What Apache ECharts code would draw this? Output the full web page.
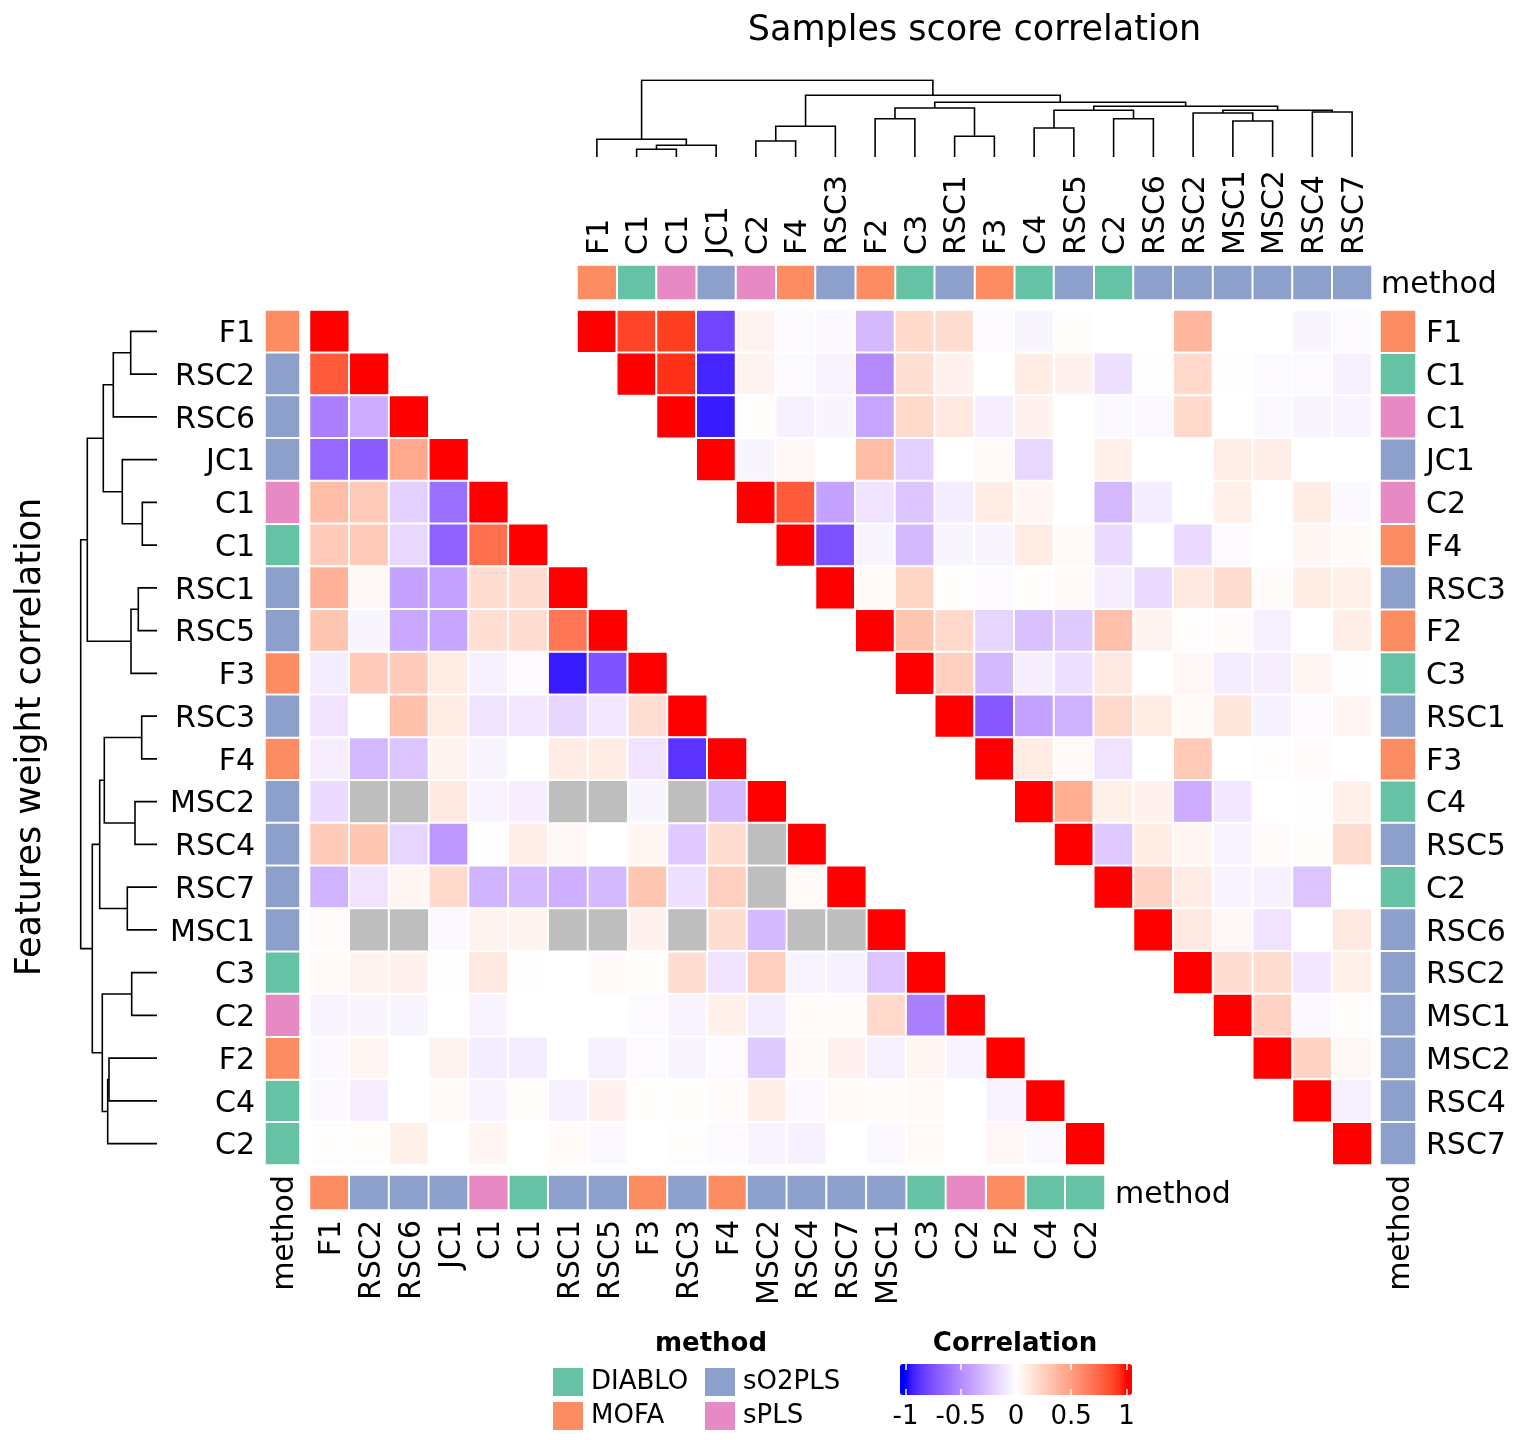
<!DOCTYPE html>
<html>
<head>
<meta charset="utf-8">
<script src="https://cdn.jsdelivr.net/npm/echarts@6/dist/echarts.min.js"></script>
<style>html,body{margin:0;padding:0;background:#fff}#chart{width:1536px;height:1440px}</style>
</head>
<body>
<div id="chart"></div>
<script>
// row / column order of the two heatmaps (after clustering)
var leftNames = ['F1','RSC2','RSC6','JC1','C1','C1','RSC1','RSC5','F3','RSC3','F4','MSC2','RSC4','RSC7','MSC1','C3','C2','F2','C4','C2'];
var leftMethod = ['MOFA','sO2PLS','sO2PLS','sO2PLS','sPLS','DIABLO','sO2PLS','sO2PLS','MOFA','sO2PLS','MOFA','sO2PLS','sO2PLS','sO2PLS','sO2PLS','DIABLO','sPLS','MOFA','DIABLO','DIABLO'];
var rightNames = ['F1','C1','C1','JC1','C2','F4','RSC3','F2','C3','RSC1','F3','C4','RSC5','C2','RSC6','RSC2','MSC1','MSC2','RSC4','RSC7'];
var rightMethod = ['MOFA','DIABLO','sPLS','sO2PLS','sPLS','MOFA','sO2PLS','MOFA','DIABLO','sO2PLS','MOFA','DIABLO','sO2PLS','DIABLO','sO2PLS','sO2PLS','sO2PLS','sO2PLS','sO2PLS','sO2PLS'];
var methods = ['DIABLO','MOFA','sO2PLS','sPLS'];

// features weight correlation, lower triangle (cols 0..i-1), null = NA
var leftCorr = [
  [],
  [0.80],
  [-0.55,-0.35],
  [-0.65,-0.70,0.45],
  [0.35,0.28,-0.20,-0.62],
  [0.27,0.28,-0.17,-0.68,0.72],
  [0.40,0.04,-0.40,-0.40,0.18,0.18],
  [0.30,-0.04,-0.37,-0.38,0.17,0.18,0.68],
  [-0.08,0.27,0.27,0.10,-0.06,-0.02,-0.95,-0.75],
  [-0.12,0.00,0.33,0.10,-0.12,-0.10,-0.18,-0.10,0.17],
  [-0.07,-0.30,-0.25,0.06,-0.04,0.00,0.10,0.10,-0.12,-0.87],
  [-0.15,null,null,0.12,-0.05,-0.07,null,null,-0.04,null,-0.30],
  [0.27,0.30,-0.18,-0.45,-0.01,0.09,0.04,0.00,0.05,-0.23,0.18,null],
  [-0.32,-0.12,0.05,0.20,-0.32,-0.30,-0.34,-0.30,0.30,-0.13,0.25,null,0.03],
  [0.02,null,null,-0.03,0.06,0.06,null,null,0.07,null,0.18,-0.30,null,null],
  [0.03,0.06,0.07,-0.01,0.12,-0.01,0.00,0.03,0.01,0.18,-0.12,0.25,-0.05,-0.06,-0.25],
  [-0.05,-0.04,-0.04,0.00,-0.05,0.00,0.00,0.00,-0.02,-0.05,0.08,-0.08,0.03,0.02,0.20,-0.55],
  [-0.03,0.05,0.00,0.06,-0.08,-0.08,0.00,-0.06,-0.02,-0.04,-0.02,-0.22,0.03,0.07,-0.06,0.05,-0.05],
  [-0.03,-0.07,0.00,0.03,-0.05,0.01,-0.06,0.07,0.01,0.01,0.02,0.09,-0.03,0.03,0.02,0.03,0.00,-0.05],
  [0.01,0.01,0.08,0.00,0.05,0.00,0.03,-0.03,0.00,0.01,-0.02,-0.05,-0.06,0.00,-0.03,0.03,0.00,0.04,-0.03]
];

// samples score correlation, upper triangle (cols i+1..19)
var rightCorr = [
  [0.88,0.90,-0.80,0.06,-0.02,-0.03,-0.30,0.20,0.18,-0.02,-0.04,0.01,0.00,0.00,0.38,0.00,0.00,-0.04,-0.02],
  [0.93,-0.92,0.06,-0.02,-0.05,-0.50,0.17,0.07,0.00,0.10,0.07,-0.13,-0.01,0.20,-0.01,-0.02,-0.02,-0.06],
  [-0.95,0.01,-0.06,-0.04,-0.38,0.20,0.12,-0.07,0.07,0.00,-0.03,-0.03,0.20,0.00,-0.03,-0.04,-0.05],
  [-0.04,0.04,0.00,0.35,-0.20,0.00,0.03,-0.17,0.00,0.08,0.00,0.00,0.09,0.09,0.00,0.00],
  [0.80,-0.40,-0.12,-0.25,-0.08,0.10,0.05,0.00,-0.30,-0.08,0.00,0.08,0.00,0.10,-0.03],
  [-0.75,-0.04,-0.30,-0.04,-0.04,0.10,0.03,-0.15,0.00,-0.15,-0.02,0.00,0.05,0.03],
  [0.03,0.22,0.01,-0.02,0.01,0.03,-0.07,-0.15,0.12,0.18,0.02,0.10,0.08],
  [0.30,0.20,-0.18,-0.27,-0.22,0.33,0.06,0.01,0.02,-0.06,0.00,0.09],
  [0.25,-0.30,-0.07,-0.13,0.12,0.00,0.04,-0.08,-0.07,0.05,-0.01],
  [-0.72,-0.40,-0.33,0.20,0.10,0.03,0.13,-0.06,-0.02,0.05],
  [0.10,0.03,-0.12,0.00,0.28,0.00,0.01,0.02,0.00],
  [0.42,0.08,0.07,-0.35,-0.10,0.00,-0.01,0.08],
  [-0.23,0.10,0.05,-0.05,0.02,0.01,0.18],
  [0.23,0.10,-0.05,-0.06,-0.25,0.00],
  [0.12,0.04,-0.12,0.00,0.12],
  [0.18,0.18,-0.10,0.08],
  [0.23,-0.03,0.01],
  [0.23,0.04],
  [-0.06],
  []
];

// dendrogram merges: [a, b, height]; 0..19 = leaves, 20+k = k-th merge
var leftTree = [
  [0,1,26.3],[20,2,43.7],[4,5,14.7],[3,22,34.7],[21,23,53.7],
  [6,7,18.7],[25,8,26],[24,26,69.7],[9,10,15.3],[11,12,22],
  [28,29,52.7],[13,14,29.7],[30,31,57.3],[15,16,25.3],[17,18,48],
  [34,19,49.3],[33,35,54.7],[32,36,64.7],[27,37,76.3]
];
var topTree = [
  [1,2,7.7],[20,3,11.7],[0,21,17.7],[4,5,16],[23,6,30.7],
  [7,8,38.3],[9,10,20.7],[25,26,49],[11,12,29],[13,14,38.3],
  [28,29,46.7],[16,17,36],[15,31,44],[18,19,45],[32,33,46.7],
  [30,34,50.7],[27,35,54.7],[24,36,61.7],[22,37,76.7]
];

var corrTicks = [-1,-0.5,0,0.5,1];

var FONT = 'DejaVu Sans';
var methodColor = {DIABLO:'#66C2A5', MOFA:'#FC8D62', sO2PLS:'#8DA0CB', sPLS:'#E78AC3'};

// blue - white - red ramp interpolated in LAB (like colorRamp2)
function toLin(c){c/=255;return c<=0.04045?c/12.92:Math.pow((c+0.055)/1.055,2.4);}
function toSrgb(c){c=c<=0.0031308?12.92*c:1.055*Math.pow(c,1/2.4)-0.055;return Math.round(Math.min(1,Math.max(0,c))*255);}
function rgbToLab(rgb){
  var r=toLin(rgb[0]),g=toLin(rgb[1]),b=toLin(rgb[2]);
  var x=(0.4124564*r+0.3575761*g+0.1804375*b)/0.95047,
      y=0.2126729*r+0.7151522*g+0.0721750*b,
      z=(0.0193339*r+0.1191920*g+0.9503041*b)/1.08883;
  var f=function(t){return t>216/24389?Math.cbrt(t):(24389/27*t+16)/116;};
  return [116*f(y)-16,500*(f(x)-f(y)),200*(f(y)-f(z))];
}
function labToRgb(lab){
  var fy=(lab[0]+16)/116, fx=fy+lab[1]/500, fz=fy-lab[2]/200;
  var finv=function(t){return t*t*t>216/24389?t*t*t:(116*t-16)/(24389/27);};
  var x=finv(fx)*0.95047, y=finv(fy), z=finv(fz)*1.08883;
  var r=3.2404542*x-1.5371385*y-0.4985314*z,
      g=-0.9692660*x+1.8760108*y+0.0415560*z,
      b=0.0556434*x-0.2040259*y+1.0572252*z;
  return 'rgb('+toSrgb(r)+','+toSrgb(g)+','+toSrgb(b)+')';
}
var labBlue=rgbToLab([0,0,255]), labWhite=rgbToLab([255,255,255]), labRed=rgbToLab([255,0,0]);
function corrColor(v){
  v=Math.max(-1,Math.min(1,v));
  var end=v<0?labBlue:labRed, t=Math.abs(v);
  return labToRgb([0,1,2].map(function(k){return labWhite[k]+(end[k]-labWhite[k])*t;}));
}
var rampColors=[];
for(var k=0;k<=42;k++){rampColors.push(corrColor(-1.05+k*0.05));}

// heatmap cells
var leftData=[], leftNA=[], rightData=[];
leftCorr.forEach(function(row,i){
  row.forEach(function(v,j){
    if(v===null){leftNA.push([j,i,0]);}else{leftData.push([j,i,v]);}
  });
  leftData.push([i,i,1]);
});
rightCorr.forEach(function(row,i){
  rightData.push([i,i,1]);
  row.forEach(function(v,k){rightData.push([i+1+k,i,v]);});
});

// dendrogram segments in (position, height)
function dendroSegs(tree,n){
  var pos=[],ht=[],segs=[];
  for(var i=0;i<n;i++){pos.push(i);ht.push(0);}
  tree.forEach(function(m){
    var a=m[0],b=m[1],h=m[2];
    segs.push([[pos[a],ht[a]],[pos[a],h],[pos[b],h],[pos[b],ht[b]]]);
    pos.push((pos[a]+pos[b])/2);ht.push(h);
  });
  return segs;
}
var leftSegs=dendroSegs(leftTree,20).map(function(s){return {coords:s.map(function(p){return [p[1],p[0]];})};});
var topSegs=dendroSegs(topTree,20).map(function(s){return {coords:s};});

var idx20=[];for(var i=0;i<20;i++){idx20.push(String(i));}

function hiddenCat(g,data,inv){return {type:'category',gridIndex:g,data:data,show:false,inverse:!!inv};}
function labelCat(g,data,pos,opt){
  return {type:'category',gridIndex:g,data:data,position:pos,inverse:!!opt.inverse,
    axisLine:{show:false},axisTick:{show:false},splitLine:{show:false},
    axisLabel:{show:true,interval:0,rotate:opt.rotate||0,margin:opt.margin||10,
      formatter:function(v){return '{t|'+v+'}';},
      rich:{t:{fontSize:30,color:'#000',fontFamily:FONT,padding:[6,0,0,0]}}}};
}

var cellStyle={borderColor:'#fff',borderWidth:2};
var series=[
  {type:'heatmap',name:'leftCorr',xAxisIndex:0,yAxisIndex:0,data:leftData,itemStyle:cellStyle,silent:true},
  {type:'heatmap',name:'rightCorr',xAxisIndex:1,yAxisIndex:1,data:rightData,itemStyle:cellStyle,silent:true},
  {type:'heatmap',name:'NA',xAxisIndex:0,yAxisIndex:0,data:leftNA,itemStyle:{color:'#BEBEBE',borderColor:'#fff',borderWidth:2},silent:true}
];
methods.forEach(function(m){
  var st={color:methodColor[m],borderColor:'#fff',borderWidth:2};
  var rowL=[],colL=[],colR=[],rowR=[];
  leftMethod.forEach(function(x,i){if(x===m){rowL.push([0,i,1]);colL.push([i,0,1]);}});
  rightMethod.forEach(function(x,i){if(x===m){colR.push([i,0,1]);rowR.push([0,i,1]);}});
  series.push({type:'heatmap',name:m,xAxisIndex:2,yAxisIndex:2,data:rowL,itemStyle:st,silent:true});
  series.push({type:'heatmap',name:m,xAxisIndex:3,yAxisIndex:3,data:colL,itemStyle:st,silent:true});
  series.push({type:'heatmap',name:m,xAxisIndex:4,yAxisIndex:4,data:colR,itemStyle:st,silent:true});
  series.push({type:'heatmap',name:m,xAxisIndex:5,yAxisIndex:5,data:rowR,itemStyle:st,silent:true});
});
series.push({type:'lines',coordinateSystem:'cartesian2d',xAxisIndex:6,yAxisIndex:6,polyline:true,data:leftSegs,
  lineStyle:{color:'#000',width:1.6,opacity:1},silent:true});
series.push({type:'lines',coordinateSystem:'cartesian2d',xAxisIndex:7,yAxisIndex:7,polyline:true,data:topSegs,
  lineStyle:{color:'#000',width:1.6,opacity:1},silent:true});

var tickAxis={show:true,inside:true,length:6,lineStyle:{color:'#fff',width:1.5},customValues:corrTicks};

var chart=echarts.init(document.getElementById('chart'),null,{renderer:'canvas'});
chart.setOption({
  animation:false,
  backgroundColor:'#fff',
  textStyle:{fontFamily:FONT},
  grid:[
    {left:309.5,top:310,width:795.5,height:855,outerBoundsMode:'none'},
    {left:577,top:310,width:795,height:855,outerBoundsMode:'none'},
    {left:265,top:310,width:35,height:855,outerBoundsMode:'none'},
    {left:309.5,top:1175,width:795.5,height:35,outerBoundsMode:'none'},
    {left:577,top:265,width:795,height:35,outerBoundsMode:'none'},
    {left:1380,top:310,width:36,height:855,outerBoundsMode:'none'},
    {left:80,top:310,width:77,height:855,outerBoundsMode:'none'},
    {left:577,top:80,width:795,height:77,outerBoundsMode:'none'},
    {left:900,top:1364,width:232,height:31,outerBoundsMode:'none'}
  ],
  xAxis:[
    hiddenCat(0,idx20),
    hiddenCat(1,idx20),
    labelCat(2,['method'],'bottom',{rotate:90}),
    labelCat(3,leftNames,'bottom',{rotate:90}),
    labelCat(4,rightNames,'top',{rotate:-90}),
    labelCat(5,['method'],'bottom',{rotate:90}),
    {type:'value',gridIndex:6,min:0,max:77,inverse:true,show:false},
    {type:'value',gridIndex:7,min:-0.5,max:19.5,show:false},
    {type:'value',gridIndex:8,min:-1.05,max:1.05,position:'bottom',z:10,
      axisLine:{show:false},splitLine:{show:false},axisTick:tickAxis,
      axisLabel:{customValues:corrTicks,fontSize:26,color:'#000',margin:9,fontFamily:FONT}},
    {type:'value',gridIndex:8,min:-1.05,max:1.05,position:'top',z:10,
      axisLine:{show:false},splitLine:{show:false},axisTick:tickAxis,axisLabel:{show:false}}
  ],
  yAxis:[
    hiddenCat(0,idx20,true),
    hiddenCat(1,idx20,true),
    labelCat(2,leftNames,'left',{inverse:true}),
    labelCat(3,['method'],'right',{}),
    labelCat(4,['method'],'right',{margin:9}),
    labelCat(5,rightNames,'right',{inverse:true}),
    {type:'value',gridIndex:6,min:-0.5,max:19.5,inverse:true,show:false},
    {type:'value',gridIndex:7,min:0,max:77,show:false},
    {type:'value',gridIndex:8,show:false}
  ],
  visualMap:{
    type:'continuous',min:-1.05,max:1.05,seriesIndex:[0,1],calculable:false,hoverLink:false,
    orient:'horizontal',left:900,top:1364,itemWidth:31,itemHeight:232,padding:0,text:null,
    inRange:{color:rampColors}
  },
  legend:[
    {data:['DIABLO','MOFA'],orient:'vertical',left:553,top:1366,padding:0,itemWidth:30,itemHeight:28,itemGap:2,
      icon:'rect',selectedMode:false,itemStyle:{borderWidth:0},
      textStyle:{fontSize:26,color:'#000',fontFamily:FONT,lineHeight:28,padding:[4,0,0,3]}},
    {data:['sO2PLS','sPLS'],orient:'vertical',left:705,top:1366,padding:0,itemWidth:30,itemHeight:28,itemGap:2,
      icon:'rect',selectedMode:false,itemStyle:{borderWidth:0},
      textStyle:{fontSize:26,color:'#000',fontFamily:FONT,lineHeight:28,padding:[4,0,0,3]}}
  ],
  graphic:[
    {type:'text',x:974.5,y:31,style:{text:'Samples score correlation',fontSize:35,fontFamily:FONT,fill:'#000',
      align:'center',verticalAlign:'middle',textAlign:'center',textVerticalAlign:'middle'}},
    {type:'text',x:31,y:737,rotation:Math.PI/2,style:{text:'Features weight correlation',fontSize:35,fontFamily:FONT,fill:'#000',
      align:'center',verticalAlign:'middle',textAlign:'center',textVerticalAlign:'middle'}},
    {type:'text',x:711,y:1344,style:{text:'method',fontSize:26,fontWeight:'bold',fontFamily:FONT,fill:'#000',
      align:'center',verticalAlign:'middle',textAlign:'center',textVerticalAlign:'middle'}},
    {type:'text',x:1015,y:1344,style:{text:'Correlation',fontSize:26,fontWeight:'bold',fontFamily:FONT,fill:'#000',
      align:'center',verticalAlign:'middle',textAlign:'center',textVerticalAlign:'middle'}}
  ],
  series:series
});
</script>
</body>
</html>
